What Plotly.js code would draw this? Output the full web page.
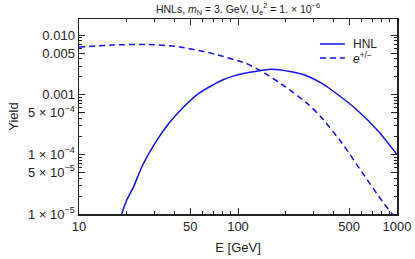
<!DOCTYPE html>
<html><head><meta charset="utf-8">
<script src="https://cdn.plot.ly/plotly-3.0.1.min.js"></script>
<style>html,body{margin:0;padding:0;background:#fff}#chart{width:415px;height:259px}</style>
</head><body><div id="chart"></div>
<script>
const hnlE = [18.45, 18.6, 20.0, 22.1, 24.9, 31.0, 36.8, 44.7, 56.9, 80.0, 109.6, 161.8, 216, 263, 335, 388, 545, 766, 1000];
const hnlYield = [9.0e-6, 1.0e-5, 1.73e-5, 2.90e-5, 6.26e-5, 1.75e-4, 3.33e-4, 5.93e-4, 1.06e-3, 1.77e-3, 2.29e-3, 2.67e-3, 2.43e-3, 2.14e-3, 1.56e-3, 1.2e-3, 5.93e-4, 2.41e-4, 9.9e-5];
const eE = [10, 15.9, 26.2, 42.3, 68.4, 111.9, 139.8, 195.5, 277, 335, 449, 600, 780, 929, 1000];
const eYield = [6.30e-3, 6.80e-3, 6.98e-3, 6.37e-3, 4.94e-3, 3.36e-3, 2.50e-3, 1.40e-3, 6.9e-4, 4.15e-4, 1.57e-4, 5.1e-5, 1.87e-5, 1.01e-5, 8.0e-6];
const xTickVals = [10, 50, 100, 500, 1000];
const xTickText = ['10', '50', '100', '500', '1000'];
const yTickVals = [1e-5, 5e-5, 1e-4, 5e-4, 1e-3, 5e-3, 1e-2];
const yTickText = ['1 × 10<sup>−5</sup>', '5 × 10<sup>−5</sup>', '1 × 10<sup>−4</sup>', '5 × 10<sup>−4</sup>', '0.001', '0.005', '0.010'];
const seriesNames = ['HNL', '<i>e</i><sup>+/−</sup>'];

function minorVals(lo, hi) {
  const out = [];
  for (let d = lo; d <= hi; d++) for (let k = 1; k <= 9; k++) out.push(k * Math.pow(10, d));
  return out;
}
const FAM = 'Liberation Sans, Arial, sans-serif';
const font = {family: FAM, size: 13, color: '#222'};
const blue = '#1010f0';
const traces = [
  {x: hnlE, y: hnlYield, name: seriesNames[0], type: 'scatter', mode: 'lines',
   line: {color: blue, width: 1.5, shape: 'spline', smoothing: 0.6}},
  {x: eE, y: eYield, name: seriesNames[1], type: 'scatter', mode: 'lines',
   line: {color: blue, width: 1.5, dash: '6px,4px', shape: 'spline', smoothing: 0.6}}
];
const axisCommon = {showline: true, linecolor: '#222', linewidth: 1.5, mirror: 'allticks',
  ticks: 'inside', ticklen: 6, tickwidth: 1, tickcolor: '#222', showgrid: false, zeroline: false,
  tickfont: font};
const legendY = [0.872, 0.8];
const legendShapes = seriesNames.map((n, i) => ({type: 'line', xref: 'paper', yref: 'paper',
  x0: 0.758, x1: 0.836, y0: legendY[i], y1: legendY[i],
  line: {color: blue, width: 1.5, dash: i === 0 ? 'solid' : '6px,4px'}}));
const legendAnn = seriesNames.map((n, i) => ({text: n, xref: 'paper', yref: 'paper',
  x: 0.856, y: legendY[i], xanchor: 'left', yanchor: 'middle', showarrow: false,
  font: {family: FAM, size: 12, color: '#222'}}));
const layout = {
  width: 415, height: 259,
  margin: {l: 79, r: 18, t: 19, b: 45},
  paper_bgcolor: '#fff', plot_bgcolor: '#fff',
  font: font,
  title: {text: 'HNLs, <i>m</i><sub>N</sub> = 3. GeV, U<sub>e</sub><sup>2</sup> = 1. × 10<sup>−6</sup>',
    font: {family: FAM, size: 10.5, color: '#222'},
    x: 0.5, xref: 'paper', y: 0.965, yref: 'container', xanchor: 'center', yanchor: 'middle'},
  xaxis: Object.assign({}, axisCommon, {type: 'log', range: [1, 3], tickmode: 'array',
    tickvals: xTickVals, ticktext: xTickText,
    minor: {tickmode: 'array', tickvals: minorVals(1, 2), ticks: 'inside', ticklen: 3, tickcolor: '#222', showgrid: false},
    title: {text: 'E [GeV]', font: font, standoff: 10}}),
  yaxis: Object.assign({}, axisCommon, {type: 'log', range: [-5, -1.73], tickmode: 'array',
    tickvals: yTickVals, ticktext: yTickText,
    minor: {tickmode: 'array', tickvals: minorVals(-5, -2), ticks: 'inside', ticklen: 3, tickcolor: '#222', showgrid: false},
    title: {text: 'Yield', font: font, standoff: 6}}),
  showlegend: false,
  shapes: legendShapes,
  annotations: legendAnn
};
Plotly.newPlot('chart', traces, layout, {displayModeBar: false, staticPlot: true});
</script></body></html>
